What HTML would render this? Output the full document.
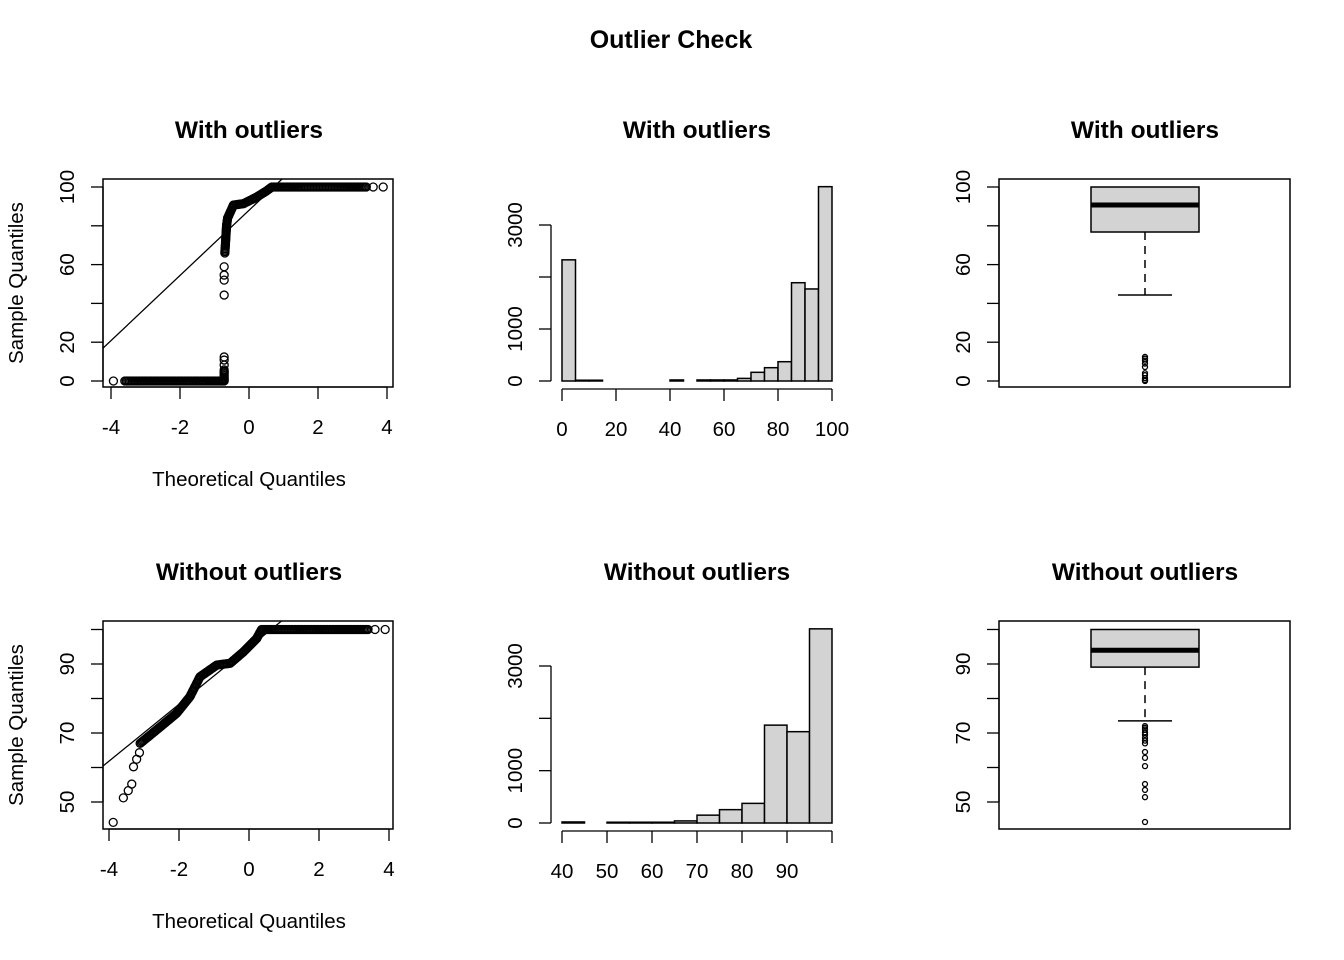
<!DOCTYPE html>
<html><head><meta charset="utf-8"><style>
body{margin:0;background:#fff}
svg{display:block;font-family:"Liberation Sans",Arial,sans-serif}
</style></head><body>
<svg id="s" width="1344" height="960" viewBox="0 0 1344 960" xmlns="http://www.w3.org/2000/svg">
<text x="671" y="48" text-anchor="middle" font-size="25" font-weight="bold">Outlier Check</text>
</svg>
<script>
// ---------- data ----------
const qq1Theo = [-3.93,-3.6,-3.0,-2.0,-1.2,-0.72,-0.72,-0.72,-0.72,-0.72,-0.72,-0.72,-0.72,-0.72,-0.70,-0.65,-0.62,-0.45,-0.16,0.22,0.51,0.66,1.5,2.5,3.4,3.6,3.89];
const qq1Samp = [0,0,0,0,0,0,5.7,8.2,10.8,12.4,44.3,52,54.6,58.9,66,80,84,90.7,91.4,94.8,98,100,100,100,100,100,100];
const qq1Dense = [0,1,1,1,1,1,1,0,0,0,0,0,0,0,1,1,1,1,1,1,1,1,1,1,1,0,0];
const qq1Line = [88, 16.8];
const qq2Theo = [-3.88,-3.59,-3.45,-3.35,-3.30,-3.21,-3.13,-3.11,-2.64,-2.07,-1.69,-1.40,-0.92,-0.54,-0.16,0.22,0.36,1.5,2.5,3.4,3.6,3.89];
const qq2Samp = [44.1,51.2,53.3,55.2,60.2,62.4,64.3,67,70.9,75.7,80.5,86.3,89.7,90.2,93.5,97.4,100,100,100,100,100,100];
const qq2Dense = [0,0,0,0,0,0,0,1,1,1,1,1,1,1,1,1,1,1,1,1,0,0];
const qq2Line = [94.8, 8.24];
const h1Breaks = [0,5,10,15,20,25,30,35,40,45,50,55,60,65,70,75,80,85,90,95,100];
const h1Counts = [2330,15,15,0,0,0,0,0,20,0,20,20,20,50,167,256,371,1890,1770,3737];
const h2Breaks = [40,45,50,55,60,65,70,75,80,85,90,95,100];
const h2Counts = [20,0,15,15,15,40,150,255,375,1870,1745,3710];
const bp1Stats = [44.3,76.8,90.7,100,100];
const bp1Out = [12.4,11.5,10.5,9,7.2,4,3,1.5,0.5,0];
const bp2Stats = [73.5,89.1,94,100,100];
const bp2Out = [72,71.5,71,70.2,69.5,68.6,67.8,67,64.5,62.8,60.4,55.2,53.5,51.4,44.2];

// ---------- helpers ----------
const S = document.getElementById('s');
const NS = 'http://www.w3.org/2000/svg';
function mk(tag, at, parent){const e=document.createElementNS(NS,tag);for(const k in at)e.setAttribute(k,at[k]);(parent||S).appendChild(e);return e;}
function txt(x,y,s,size,extra,parent){const t=mk('text',Object.assign({x:x,y:y,'text-anchor':'middle','font-size':size},extra||{}),parent);t.textContent=s;return t;}
function lin(d0,d1,p0,p1){return v=>p0+(v-d0)*(p1-p0)/(d1-d0);}

function title(cx,y,s){const t=txt(cx,y,s,24.5,{'font-weight':'bold'});

}

function yAxis(x,ys,ticks,labels,labX){const g=mk('g',{});


mk('line',{x1:x,x2:x,y1:ys(ticks[0]),y2:ys(ticks[ticks.length-1]),stroke:'#000','stroke-width':1.3},g);
ticks.forEach(v=>{mk('line',{x1:x-12,x2:x,y1:ys(v),y2:ys(v),stroke:'#000','stroke-width':1.3},g);});
labels.forEach(v=>{const yy=ys(v);const t=txt(0,0,String(v),20.5,{transform:`translate(${labX+7},${yy}) rotate(-90)`},g);

});}

function xAxis(y,xs,ticks,labels){const g=mk('g',{});


mk('line',{x1:xs(ticks[0]),x2:xs(ticks[ticks.length-1]),y1:y,y2:y,stroke:'#000','stroke-width':1.3},g);
ticks.forEach(v=>{mk('line',{x1:xs(v),x2:xs(v),y1:y,y2:y+12,stroke:'#000','stroke-width':1.3},g);});
labels.forEach(v=>{const t=txt(xs(v),y+47,String(v),20.5,{},g);

});}

function box(x0,y0,x1,y1,name){const r=mk('rect',{x:x0,y:y0,width:x1-x0,height:y1-y0,fill:'none',stroke:'#000','stroke-width':1.5});

}

function qq(theo,samp,dense,line,xs,ys,clip,name){const g=mk('g',{});


const pts=[];
for(let i=0;i<theo.length;i++){pts.push([xs(theo[i]),ys(samp[i])]);
 if(i>0&&dense[i]&&dense[i-1]){const a=[xs(theo[i-1]),ys(samp[i-1])],b=[xs(theo[i]),ys(samp[i])];
  const n=Math.ceil(Math.hypot(b[0]-a[0],b[1]-a[1])/1.5);
  for(let k=1;k<n;k++)pts.push([a[0]+(b[0]-a[0])*k/n,a[1]+(b[1]-a[1])*k/n]);}}
pts.forEach(p=>{const c=mk('circle',{cx:p[0],cy:p[1],r:4,fill:'none',stroke:'#000','stroke-width':1.3},g);

});
const l=mk('line',{x1:clip[0],y1:ys(line[0]+line[1]*xs.inv(clip[0])),x2:clip[1],y2:ys(line[0]+line[1]*xs.inv(clip[1])),stroke:'#000','stroke-width':1.3,'clip-path':`url(#${clip[2]})`},g);

}

function hist(breaks,counts,xs,ys,name){const g=mk('g',{});


counts.forEach((c,i)=>{const r=mk('rect',{x:xs(breaks[i]),y:ys(c),width:xs(breaks[i+1])-xs(breaks[i]),height:ys(0)-ys(c),fill:'#d3d3d3',stroke:'#000','stroke-width':1.5},g);

});}

function boxplot(st,out,ys,cx,name){const g=mk('g',{});


const hw=54;
let e=mk('line',{x1:cx,x2:cx,y1:ys(st[1]),y2:ys(st[0]),stroke:'#000','stroke-width':1.5,'stroke-dasharray':'8,6'},g);


e=mk('line',{x1:cx-27,x2:cx+27,y1:ys(st[0]),y2:ys(st[0]),stroke:'#000','stroke-width':1.5},g);


e=mk('rect',{x:cx-hw,y:ys(st[3]),width:2*hw,height:ys(st[1])-ys(st[3]),fill:'#d3d3d3',stroke:'#000','stroke-width':1.5},g);


e=mk('line',{x1:cx-hw,x2:cx+hw,y1:ys(st[2]),y2:ys(st[2]),stroke:'#000','stroke-width':5},g);


out.forEach(v=>{const c=mk('circle',{cx:cx,cy:ys(v),r:2.5,fill:'none',stroke:'#000','stroke-width':1.3},g);

});}

const defs=mk('defs',{});
let cp=mk('clipPath',{id:'c1'},defs);mk('rect',{x:103,y:179,width:290,height:208},cp);
cp=mk('clipPath',{id:'c2'},defs);mk('rect',{x:103,y:621,width:290,height:208},cp);

// ---------- top row ----------
const x1=lin(-4,4,111,387);x1.inv=lin(111,387,-4,4);
const y1=lin(0,100,381,187);
title(249,138,'With outliers');
box(103,179,393,387,'qq-plot-frame-top');
qq(qq1Theo,qq1Samp,qq1Dense,qq1Line,x1,y1,[103,393,'c1'],'qq-points-top');
xAxis(387,x1,[-4,-2,0,2,4],[-4,-2,0,2,4]);
yAxis(103,y1,[0,20,40,60,80,100],[0,20,60,100],67);
let t=txt(249,486,'Theoretical Quantiles',20.5);


t=txt(0,0,'Sample Quantiles',20.5,{transform:'translate(23,283) rotate(-90)'});



const hx1=lin(0,100,562,832), hy1=lin(0,3000,381,225);
title(697,138,'With outliers');
hist(h1Breaks,h1Counts,hx1,hy1,'histogram-top');
xAxis(389,hx1,[0,20,40,60,80,100],[0,20,40,60,80,100]);
yAxis(551,hy1,[0,1000,2000,3000],[0,1000,3000],515);

title(1145,138,'With outliers');
box(999,179,1290,387,'boxplot-frame-top');
boxplot(bp1Stats,bp1Out,y1,1145,'boxplot-top');
yAxis(999,y1,[0,20,40,60,80,100],[0,20,60,100],963);

// ---------- bottom row ----------
const x2=lin(-4,4,109,389);x2.inv=lin(109,389,-4,4);
const y2=lin(50,90,802,664);
title(249,580,'Without outliers');
box(103,621,393,829,'qq-plot-frame-bottom');
qq(qq2Theo,qq2Samp,qq2Dense,qq2Line,x2,y2,[103,393,'c2'],'qq-points-bottom');
xAxis(829,x2,[-4,-2,0,2,4],[-4,-2,0,2,4]);
yAxis(103,y2,[50,60,70,80,90,100],[50,70,90],67);
t=txt(249,928,'Theoretical Quantiles',20.5);


t=txt(0,0,'Sample Quantiles',20.5,{transform:'translate(23,725) rotate(-90)'});



const hx2=lin(40,100,562,832), hy2=lin(0,3000,823,666);
title(697,580,'Without outliers');
hist(h2Breaks,h2Counts,hx2,hy2,'histogram-bottom');
xAxis(831,hx2,[40,50,60,70,80,90,100],[40,50,60,70,80,90]);
yAxis(551,hy2,[0,1000,2000,3000],[0,1000,3000],515);

title(1145,580,'Without outliers');
box(999,621,1290,829,'boxplot-frame-bottom');
boxplot(bp2Stats,bp2Out,y2,1145,'boxplot-bottom');
yAxis(999,y2,[50,60,70,80,90,100],[50,70,90],963);
</script>
</body></html>
